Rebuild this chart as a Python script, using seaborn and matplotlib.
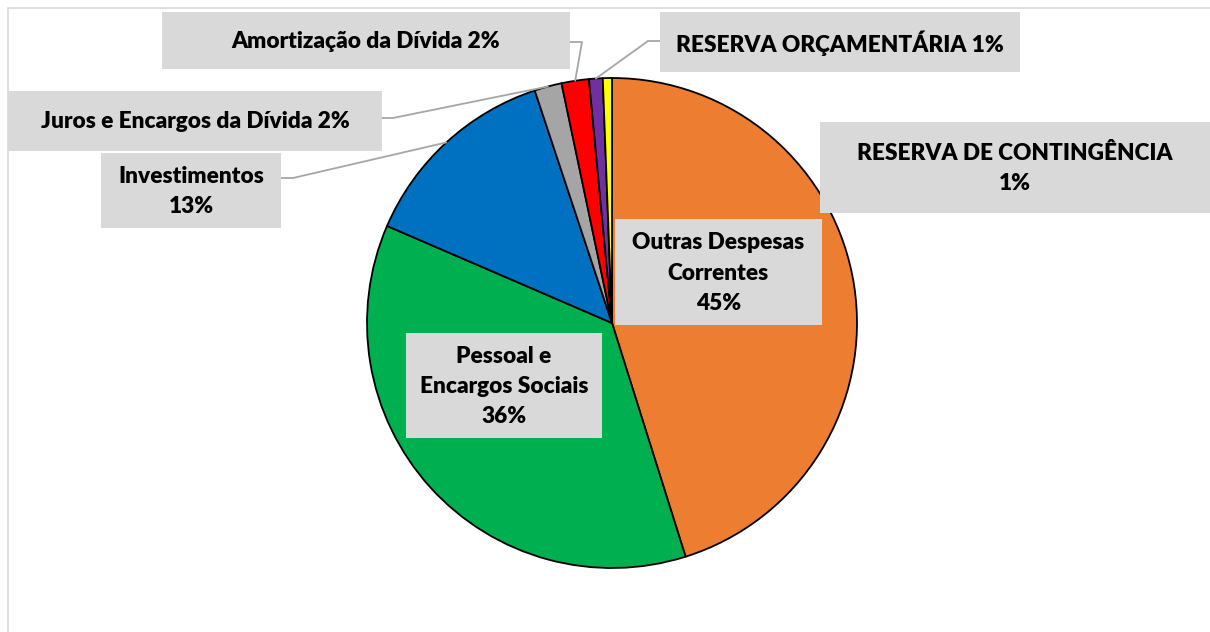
import matplotlib
matplotlib.use('Agg')
import numpy as np
import matplotlib.pyplot as plt
import seaborn as sns
from matplotlib.patches import Rectangle

sns.set_theme(style='white')
plt.rcParams['font.family'] = ['Lato', 'DejaVu Sans']

# Data (percent of total)
categorias = ['Outras Despesas Correntes', 'Pessoal e Encargos Sociais', 'Investimentos',
              'Juros e Encargos da Dívida', 'Amortização da Dívida',
              'RESERVA ORÇAMENTÁRIA', 'RESERVA DE CONTINGÊNCIA']
rotulos = ['Outras Despesas\nCorrentes', 'Pessoal e\nEncargos Sociais', 'Investimentos',
           'Juros e Encargos da Dívida', 'Amortização da Dívida',
           'RESERVA ORÇAMENTÁRIA', 'RESERVA DE CONTINGÊNCIA']
valores = [45.1, 36.3, 13.4, 1.8, 1.8, 0.9, 0.6]
cores = ['#ed7d31', '#00b050', '#0070c0', '#a5a5a5', '#ff0000', '#7030a0', '#ffff00']

pct = [round(v / sum(valores) * 100) for v in valores]

W, H = 1210, 632
fig = plt.figure(figsize=(W / 100, H / 100), dpi=100)
fig.patch.set_facecolor('white')

# pie axes: centre (612, 323), radius 245 px
ax = fig.add_axes([367 / W, 1 - 568 / H, 490 / W, 490 / H])
wedges, _ = ax.pie(valores, colors=cores, startangle=90, counterclock=False,
                   wedgeprops=dict(edgecolor='black', linewidth=1.3))
ax.set_xlim(-1, 1)
ax.set_ylim(-1, 1)
ax.axis('off')

# overlay in pixel coords (y down)
ov = fig.add_axes([0, 0, 1, 1], zorder=2)
ov.set_xlim(0, W)
ov.set_ylim(H, 0)
ov.axis('off')
ov.patch.set_alpha(0)

# chart border
ov.plot([8, 8], [H, 8], color='#d9d9d9', lw=1.2)
ov.plot([8, W], [8, 8], color='#d9d9d9', lw=1.2)

# label layout: box (x0, y0, x1, y1), leader start + elbow
layout = [
    dict(box=(615, 219, 822, 325), sep='\n', leader=None),
    dict(box=(406, 333, 602, 438), sep='\n', leader=None),
    dict(box=(101, 153, 281, 228), sep='\n', leader=((281, 178), (293, 178))),
    dict(box=(8, 91, 382, 151), sep=' ', leader=((382, 118), (393, 118))),
    dict(box=(162, 12, 570, 69), sep=' ', leader=((570, 42), (582, 42))),
    dict(box=(660, 12, 1020, 72), sep=' ', leader=((660, 41), (648, 41))),
    dict(box=(820, 122, 1210, 213), sep='\n', leader=None),
]

for w, nome, p, lay in zip(wedges, rotulos, pct, layout):
    x0, y0, x1, y1 = lay['box']
    ov.add_patch(Rectangle((x0, y0), x1 - x0, y1 - y0, facecolor='#d9d9d9',
                           edgecolor='none', zorder=3))
    ov.text((x0 + x1) / 2, (y0 + y1) / 2 + 1, f'{nome}{lay["sep"]}{p}%',
            ha='center', va='center', fontsize=16.3, fontweight='heavy',
            color='black', linespacing=1.55, zorder=4)
    if lay['leader'] is not None:
        ang = np.deg2rad((w.theta1 + w.theta2) / 2)
        disp = ax.transData.transform((np.cos(ang), np.sin(ang)))
        px, py = ov.transData.inverted().transform(disp)
        (sx, sy), (ex, ey) = lay['leader']
        ov.plot([sx, ex, px], [sy, ey, py], color='#a6a6a6', lw=1.3, zorder=2)

fig.savefig('out.png', dpi=100)
